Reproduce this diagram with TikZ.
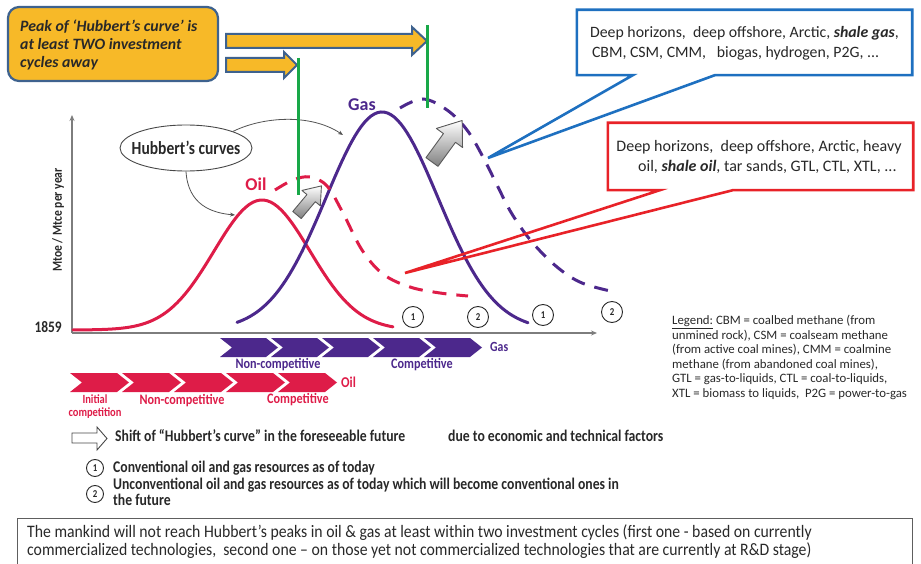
\documentclass[tikz,border=0pt]{standalone}
\usepackage{fontspec}
\setmainfont{Carlito}
\newfontfamily\condfont[FakeStretch=0.84]{Carlito}
\newfontfamily\summaryfont[FakeStretch=0.90]{Carlito}
\usetikzlibrary{arrows.meta,shapes.geometric,calc}

\definecolor{calloutorange}{RGB}{247,185,40}
\definecolor{calloutedge}{RGB}{62,98,142}
\definecolor{peakgreen}{RGB}{24,168,72}
\definecolor{gasblue}{RGB}{30,112,192}
\definecolor{oilred}{RGB}{232,34,40}
\definecolor{oilcurve}{RGB}{222,28,72}
\definecolor{gaspurple}{RGB}{76,40,140}
\definecolor{inkgray}{RGB}{40,40,40}
\definecolor{axisgray}{RGB}{125,125,125}

\tikzset{
  oilline/.style={draw=oilcurve, line width=3pt, line cap=round},
  gasline/.style={draw=gaspurple, line width=3pt, line cap=round},
  futuredash/.style={dash pattern=on 14pt off 10pt, line cap=butt},
  peakline/.style={draw=peakgreen, line width=3pt},
  orangearrow/.style={fill=calloutorange, draw=calloutedge, line width=2pt, line join=miter},
  pointer/.style={draw=inkgray!80, line width=0.8pt, -{Stealth[length=5pt,width=4pt]}},
  numcircle/.style={circle, draw=inkgray, line width=0.9pt, inner sep=0pt, minimum size=#1,
    font=\condfont\bfseries\fontsize{10.5}{10.5}\selectfont, text=inkgray},
  boxtext/.style={font=\fontsize{15.8}{20}\selectfont, text=inkgray, inner sep=0pt},
  graphlabel/.style={font=\condfont\bfseries\fontsize{16.3}{16}\selectfont, text=inkgray, inner sep=0pt},
  stagelabel/.style={font=\condfont\bfseries\fontsize{14.5}{14}\selectfont, inner sep=0pt, align=center},
  shiftarrow/.pic={
    \shadedraw[top color=white, bottom color=black!50, draw=black!65, line width=0.9pt, line join=round]
      (0,-5.5) -- (22,-5.5) -- (22,-12) -- (38,0) -- (22,12) -- (22,5.5) -- (0,5.5) -- cycle;
  }
}

\begin{document}
\begin{tikzpicture}[x=1pt, y=-1pt]
\useasboundingbox (0,0) rectangle (921,564);

% ---------- axes ----------
\coordinate (origin) at (72,333);
\coordinate (ytop) at (72,115);
\coordinate (xend) at (597,333);
\draw[axisgray, line width=1.3pt, -{Stealth[length=6pt,width=5pt]}] (origin) -- (ytop);
\draw[axisgray, line width=1.6pt, -{Stealth[length=6pt,width=5pt]}] (origin) -- (xend);
\node[font=\condfont\bfseries\fontsize{16}{16}\selectfont, text=inkgray, anchor=east, inner sep=0pt] (year) at (62,327) {1859};
\node[font=\condfont\bfseries\fontsize{13.8}{14}\selectfont, text=inkgray, rotate=90] (ylabel) at (58,220) {Mtoe / Mtce per year};

% ---------- Hubbert curves ----------
\draw[oilline] plot[domain=73:393, samples=90] (\x, {330-130*exp(-0.5*((\x-262)/48)^2)});
\draw[gasline] plot[domain=237:528, samples=90] (\x, {330-218*exp(-0.5*((\x-382)/56)^2)});
\draw[oilline, futuredash] plot[smooth, tension=0.6] coordinates
  {(275,190) (293,180) (310,177) (327,186) (343,213) (362,250) (383,274) (410,287) (440,293) (468,296)};
\draw[gasline, futuredash] plot[smooth, tension=0.6] coordinates
  {(400,108) (423,99) (447,110) (467,130) (483,157) (497,185) (512,214) (532,242) (557,267) (582,283) (615,292)};

\node[font=\bfseries\fontsize{18}{18}\selectfont, text=oilcurve] (oillabel) at (256,184) {Oil};
\node[font=\bfseries\fontsize{18}{18}\selectfont, text=gaspurple] (gaslabel) at (362,105) {Gas};

% shift of the curves
\pic[rotate=50] at (297,215) {shiftarrow};
\pic[rotate=54, scale=1.35] at (432,162) {shiftarrow};

% resource circles on the time axis
\node[numcircle=21] (oilconv) at (413,317) {1};
\node[numcircle=21] (oilunconv) at (478,317) {2};
\node[numcircle=21] (gasconv) at (543,315) {1};
\node[numcircle=21] (gasunconv) at (612,312) {2};

% label ellipse with pointers
\node[ellipse, draw=inkgray!85, line width=0.9pt, minimum width=132, minimum height=46, inner sep=0pt] (hubbert) at (186,148) {};
\node[graphlabel, font=\condfont\bfseries\fontsize{18.5}{18}\selectfont] (hubberttext) at (hubbert.center) {Hubbert’s curves};
\coordinate (oilpeakpt) at (235,215);
\coordinate (gaspeakpt) at (343,135);
\draw[pointer] (hubbert.south) .. controls (188,205) and (212,213) .. (oilpeakpt);
\draw[pointer] (hubbert.north east) .. controls (262,117) and (310,113) .. (gaspeakpt);

% ---------- stages ----------
\foreach \i in {0,...,4} {
  \fill[gaspurple] (220+51*\i,338) -- (266+51*\i,338) -- (278+51*\i,347.5) -- (266+51*\i,357)
     -- (220+51*\i,357) -- (232+51*\i,347.5) -- cycle;
  \fill[oilcurve] (70+52*\i,373) -- (117+52*\i,373) -- (129+52*\i,382.5) -- (117+52*\i,392)
     -- (70+52*\i,392) -- (82+52*\i,382.5) -- cycle;
}
\node[stagelabel, text=gaspurple, anchor=west, font=\condfont\bfseries\fontsize{14}{14}\selectfont] (gasstage) at (490,347) {Gas};
\node[stagelabel, text=gaspurple] (gasnc) at (278,365) {Non-competitive};
\node[stagelabel, text=gaspurple] (gasc) at (422,365) {Competitive};
\node[stagelabel, text=oilcurve, anchor=west, font=\condfont\bfseries\fontsize{15}{15}\selectfont] (oilstage) at (341,382) {Oil};
\node[stagelabel, text=oilcurve, font=\condfont\bfseries\fontsize{12.5}{12.5}\selectfont] (oilinit) at (95,406.5) {Initial\\competition};
\node[stagelabel, text=oilcurve] (oilnc) at (182,401) {Non-competitive};
\node[stagelabel, text=oilcurve] (oilc) at (298,400) {Competitive};

% ---------- key ----------
\draw[fill=white, draw=inkgray!85, line width=0.9pt, line join=miter]
  (72,433) -- (97,433) -- (97,427) -- (107,438.5) -- (97,450) -- (97,443) -- (72,443) -- cycle;
\node[graphlabel, anchor=west] (keyshift) at (115,436) {Shift of “Hubbert’s curve” in the foreseeable future};
\node[graphlabel, anchor=west] (keyfactor) at (448,436) {due to economic and technical factors};
\node[numcircle=17] (keyone) at (95,468) {1};
\node[graphlabel, anchor=west] (keyconv) at (113,468) {Conventional oil and gas resources as of today};
\node[numcircle=17] (keytwo) at (95,494) {2};
\node[graphlabel, anchor=west, align=left] (keyunconv) at (113,492) {Unconventional oil and gas resources as of today which will become conventional ones in\\the future};

% ---------- peak call-out ----------
\node[draw=calloutedge, fill=calloutorange, line width=2.2pt, rounded corners=11pt,
      minimum width=210, minimum height=74] (peakbox) at (113,44) {};
\node[boxtext, anchor=west, align=left, font=\bfseries\itshape\fontsize{15.8}{18}\selectfont,
      text=inkgray] (peaktext) at (20,45) {Peak of ‘Hubbert’s curve’ is\\at least TWO investment\\cycles away};
\draw[orangearrow] (226,34) -- (412,34) -- (412,27) -- (427,41) -- (412,55) -- (412,48) -- (226,48) -- cycle;
\draw[orangearrow] (226,58) -- (284,58) -- (284,52) -- (297,65) -- (284,78) -- (284,72) -- (226,72) -- cycle;
\coordinate (gaspeaktop) at (427,25);
\coordinate (gaspeakbot) at (427,108);
\coordinate (oilpeaktop) at (298,58);
\coordinate (oilpeakbot) at (298,195);
\draw[peakline] (gaspeaktop) -- (gaspeakbot);
\draw[peakline] (oilpeaktop) -- (oilpeakbot);

% ---------- resource call-outs ----------
\node[fill=white, minimum width=335, minimum height=65, inner sep=0pt] (gasbox) at (744.5,42.5) {};
\node[boxtext, align=center] (gastext) at (744.5,43)
  {Deep horizons,\ \ deep offshore, Arctic, \textbf{\textit{shale gas}},\\CBM, CSM, CMM,\ \ \ biogas, hydrogen, P2G, ...\hspace*{18pt}};
\coordinate (gastip) at (488,158);
\draw[gasblue, line width=2.6pt, line join=miter]
  (gasbox.north west) -- (gasbox.north east) -- (gasbox.south east) -- ($(gasbox.south west)+(138,0)$)
  -- (gastip) -- ($(gasbox.south west)+(56,0)$) -- (gasbox.south west) -- cycle;

\node[fill=white, minimum width=305, minimum height=67, inner sep=0pt] (oilbox) at (760.5,156.5) {};
\node[boxtext, align=right, font=\fontsize{16}{20}\selectfont] (oiltext) at (759,157)
  {Deep horizons,\ \ deep offshore, Arctic, heavy\\oil, \textbf{\textit{shale oil}}, tar sands, GTL, CTL, XTL, ...\hspace*{5pt}};
\coordinate (oiltip) at (405,273);
\draw[oilred, line width=2.6pt, line join=miter]
  (oilbox.north west) -- (oilbox.north east) -- (oilbox.south east) -- ($(oilbox.south west)+(125,0)$)
  -- (oiltip) -- ($(oilbox.south west)+(52,0)$) -- (oilbox.south west) -- cycle;

% ---------- abbreviations ----------
\node[anchor=north west, inner sep=0pt, align=left, text=inkgray, font=\fontsize{12.8}{14.6}\selectfont] (legend) at (672,315)
  {\underline{Legend:} CBM = coalbed methane (from\\
   unmined rock), CSM = coalseam methane\\
   (from active coal mines), CMM = coalmine\\
   methane (from abandoned coal mines),\\
   GTL = gas-to-liquids, CTL = coal-to-liquids,\\
   XTL = biomass to liquids,\ \ P2G = power-to-gas};

% ---------- conclusion ----------
\draw[inkgray!75, line width=0.9pt] (17,518) rectangle (912,566);
\node[anchor=west, inner sep=0pt, align=left, text=inkgray, font=\summaryfont\fontsize{17.5}{17.5}\selectfont] (summary) at (27,541.5)
  {The mankind will not reach Hubbert’s peaks in oil \& gas at least within two investment cycles (first one - based on currently\\
   commercialized technologies,\ \ second one – on those yet not commercialized technologies that are currently at R\&D stage)};
\end{tikzpicture}
\end{document}
